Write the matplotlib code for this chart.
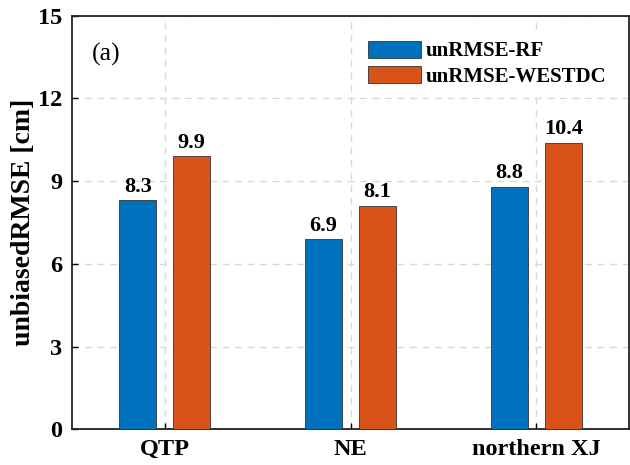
import matplotlib.pyplot as plt
import numpy as np

# data
regions = ["QTP", "NE", "northern XJ"]
rf = [8.3, 6.9, 8.8]
westdc = [9.9, 8.1, 10.4]
series_names = ["unRMSE-RF", "unRMSE-WESTDC"]
yticks = [0, 3, 6, 9, 12, 15]

plt.rcParams['font.family'] = ['Liberation Serif', 'DejaVu Serif']

fig = plt.figure(figsize=(6.3, 4.65), dpi=100)
ax = fig.add_axes([0.114, 0.077, 0.885, 0.889])

x = np.arange(1, len(regions) + 1)
w = 0.2
off = 0.145
b1 = ax.bar(x - off, rf, w, color='#0072BD', edgecolor='#333333', linewidth=0.6,
            label=series_names[0], zorder=3)
b2 = ax.bar(x + off, westdc, w, color='#D95319', edgecolor='#333333', linewidth=0.6,
            label=series_names[1], zorder=3)

for bars, vals in [(b1, rf), (b2, westdc)]:
    for r, v in zip(bars, vals):
        ax.annotate(f"{v:.1f}", (r.get_x() + r.get_width() / 2, v),
                    xytext=(0, 2.5), textcoords='offset points',
                    ha='center', va='bottom', fontsize=16, fontweight='bold')

ax.set_xlim(0.5, 3.5)
ax.set_ylim(0, 15)
ax.set_yticks(yticks)
ax.set_xticks(x)
ax.set_xticklabels(regions)
ax.tick_params(direction='in', length=4, width=1, labelsize=17.5, pad=7)
for lab in ax.get_xticklabels() + ax.get_yticklabels():
    lab.set_fontweight('bold')
ax.set_ylabel("unbiasedRMSE [cm]", fontsize=20, fontweight='bold')
ax.yaxis.set_label_coords(-0.064, 0.5)

ax.grid(True, linestyle=(0, (5, 4)), color='#d9d9d9', linewidth=1, zorder=0)
ax.set_axisbelow(True)
for s in ax.spines.values():
    s.set_linewidth(1.3)
    s.set_color('#222222')

ax.text(0.61, 13.6, "(a)", fontsize=18.5, ha='left', va='center')

leg = ax.legend(loc='upper right', bbox_to_anchor=(0.993, 0.985),
                prop={'weight': 'bold', 'size': 15}, frameon=True, fancybox=False,
                edgecolor='white', framealpha=1, handlelength=2.55, handleheight=0.87,
                handletextpad=0.25, labelspacing=0.22, borderpad=0.4)

fig.savefig("out.png", dpi=100)
